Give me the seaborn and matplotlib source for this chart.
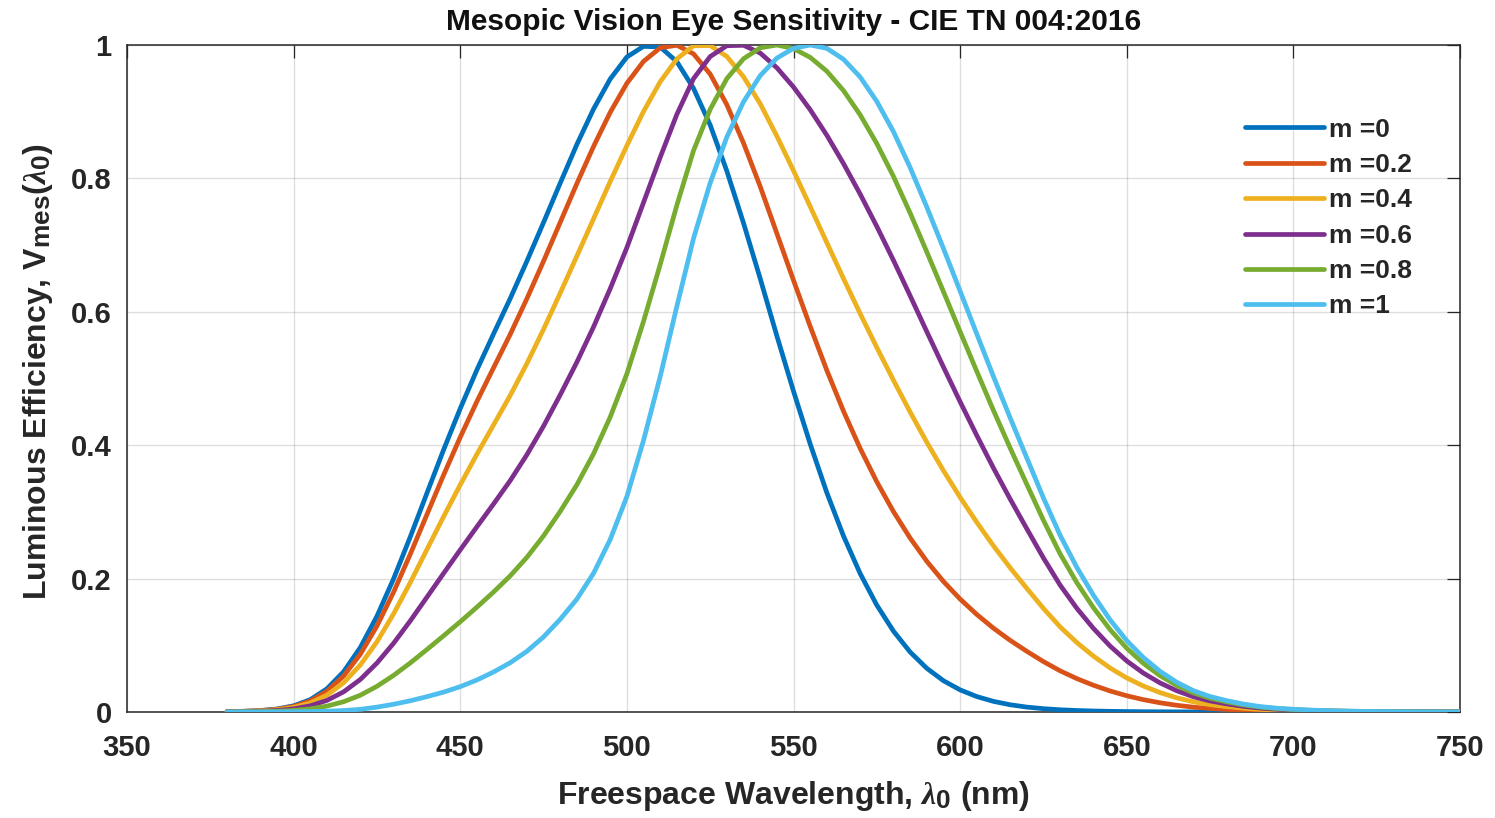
import matplotlib
matplotlib.use("Agg")
import matplotlib.pyplot as plt
import pandas as pd
import seaborn as sns

try:  # larger sub/superscripts, closer to the TeX-style labels of the reference
    import matplotlib._mathtext as _mt
    _mt.SHRINK_FACTOR = 0.82
except Exception:
    pass

# ---------------- data ----------------
wavelength = list(range(380, 755, 5))  # nm

m_labels = ["m =0", "m =0.2", "m =0.4", "m =0.6", "m =0.8", "m =1"]

v_m00 = [0.000589, 0.001108, 0.002209, 0.00453, 0.00929,
         0.01852, 0.03484, 0.0604, 0.0966, 0.1436,
         0.1998, 0.2625, 0.3281, 0.3931, 0.455,
         0.513, 0.567, 0.62, 0.676, 0.734,
         0.793, 0.851, 0.904, 0.949, 0.982,
         0.998, 0.997, 0.975, 0.935, 0.88,
         0.811, 0.733, 0.65, 0.564, 0.481,
         0.402, 0.3288, 0.2639, 0.2076, 0.1602,
         0.1212, 0.0899, 0.0655, 0.0469, 0.03315,
         0.02312, 0.01593, 0.01088, 0.00737, 0.00497,
         0.003335, 0.002235, 0.0015, 0.001, 0.00068,
         0.00046, 0.00031, 0.00022, 0.00015, 0.0001,
         0.00007, 0.00005, 0.000035, 0.000025, 0.000018,
         0.000013, 0.000009, 0.0000066, 0.0000048, 0.0000035,
         0.0000025, 0.0000019, 0.0000014, 0.000001, 0.00000075]

v_m02 = [0.00053, 0.001, 0.00199, 0.00407, 0.00833,
         0.01657, 0.03117, 0.05405, 0.08656, 0.12898,
         0.17978, 0.23655, 0.2961, 0.35526, 0.41198,
         0.46563, 0.51618, 0.56628, 0.61974, 0.67597,
         0.73415, 0.79231, 0.8479, 0.89903, 0.94258,
         0.97546, 0.99579, 0.99961, 0.9867, 0.95637,
         0.91042, 0.85297, 0.78803, 0.71758, 0.64723,
         0.57827, 0.51224, 0.45105, 0.39521, 0.34505,
         0.3004, 0.26073, 0.22594, 0.19568, 0.16931,
         0.14619, 0.12566, 0.10748, 0.09102, 0.07558,
         0.06172, 0.0501, 0.04013, 0.03153, 0.02433,
         0.0185, 0.0138, 0.01008, 0.00723, 0.00523,
         0.00383, 0.00268, 0.00185, 0.00129, 0.00093,
         0.00064, 0.00047, 0.00033, 0.00023, 0.00016,
         0.00012, 0.00008, 0.000055, 0.000038, 0.000027]

v_m04 = [0.00044, 0.00082, 0.00162, 0.00332, 0.00678,
         0.01344, 0.02528, 0.04387, 0.0704, 0.1053,
         0.14719, 0.19413, 0.24357, 0.29288, 0.34066,
         0.38652, 0.4305, 0.47466, 0.52246, 0.57381,
         0.62813, 0.6836, 0.73947, 0.79532, 0.84917,
         0.90038, 0.94491, 0.97905, 0.99882, 0.99914,
         0.98274, 0.95243, 0.91205, 0.8635, 0.81158,
         0.75791, 0.70364, 0.64986, 0.59735, 0.54643,
         0.4973, 0.44971, 0.40437, 0.36182, 0.32185,
         0.28439, 0.24912, 0.21632, 0.18537, 0.1553,
         0.12766, 0.10419, 0.08381, 0.06605, 0.05107,
         0.03891, 0.02906, 0.02124, 0.01524, 0.01104,
         0.00809, 0.00566, 0.0039, 0.00271, 0.00195,
         0.00137, 0.00099, 0.00071, 0.0005, 0.00035,
         0.00025, 0.00017, 0.00012, 0.00008, 0.000057]

v_m06 = [0.00031, 0.00057, 0.00113, 0.00231, 0.00469,
         0.00925, 0.0174, 0.03023, 0.04871, 0.07338,
         0.10312, 0.13662, 0.17215, 0.20786, 0.24308,
         0.27774, 0.31193, 0.34699, 0.38576, 0.42868,
         0.47549, 0.52461, 0.57733, 0.63474, 0.69626,
         0.7639, 0.83158, 0.89605, 0.94956, 0.9827,
         0.99894, 0.99956, 0.98802, 0.96592, 0.93698,
         0.90303, 0.86472, 0.82222, 0.77655, 0.72798,
         0.67713, 0.62402, 0.57021, 0.51716, 0.46512,
         0.41464, 0.36578, 0.31938, 0.27484, 0.23097,
         0.19031, 0.1556, 0.12534, 0.0989, 0.07653,
         0.05833, 0.04359, 0.03187, 0.02286, 0.01657,
         0.01214, 0.0085, 0.00586, 0.00407, 0.00293,
         0.00207, 0.0015, 0.00107, 0.00075, 0.00053,
         0.00037, 0.00026, 0.00018, 0.00012, 0.000085]

v_m08 = [0.00017, 0.0003, 0.0006, 0.0012, 0.00242,
         0.0047, 0.00885, 0.01541, 0.02511, 0.03853,
         0.0549, 0.07355, 0.09367, 0.11423, 0.13534,
         0.15719, 0.17993, 0.20415, 0.23189, 0.26409,
         0.30079, 0.34074, 0.38707, 0.44224, 0.50703,
         0.58577, 0.67091, 0.75983, 0.8417, 0.90363,
         0.94961, 0.97938, 0.99576, 1.0, 0.99465,
         0.98149, 0.96071, 0.93162, 0.89534, 0.85212,
         0.80294, 0.74808, 0.68975, 0.63021, 0.57015,
         0.51067, 0.45216, 0.39592, 0.34144, 0.2874,
         0.23708, 0.19403, 0.15641, 0.12348, 0.09558,
         0.07288, 0.05447, 0.03983, 0.02857, 0.02071,
         0.01518, 0.01062, 0.00732, 0.00509, 0.00366,
         0.00259, 0.00187, 0.00132, 0.00093, 0.00066,
         0.00046, 0.00032, 0.00022, 0.00015, 0.00011]

v_m10 = [0.000039, 0.000064, 0.00012, 0.000217, 0.000396,
         0.00064, 0.00121, 0.00218, 0.004, 0.0073,
         0.0116, 0.01684, 0.023, 0.0298, 0.038,
         0.048, 0.06, 0.0739, 0.091, 0.1126,
         0.139, 0.1693, 0.208, 0.2586, 0.323,
         0.4073, 0.503, 0.6082, 0.71, 0.7932,
         0.862, 0.9149, 0.954, 0.9803, 0.995,
         1.0, 0.995, 0.9786, 0.952, 0.9154,
         0.87, 0.8163, 0.757, 0.6949, 0.631,
         0.5668, 0.503, 0.4412, 0.381, 0.321,
         0.265, 0.217, 0.175, 0.1382, 0.107,
         0.0816, 0.061, 0.0446, 0.032, 0.0232,
         0.017, 0.0119, 0.0082, 0.0057, 0.0041,
         0.0029, 0.0021, 0.0015, 0.001, 0.00074,
         0.00052, 0.00036, 0.00025, 0.00017, 0.00012]

x_ticks = [350, 400, 450, 500, 550, 600, 650, 700, 750]
y_ticks = [0, 0.2, 0.4, 0.6, 0.8, 1.0]
y_tick_labels = ["0", "0.2", "0.4", "0.6", "0.8", "1"]

colors = ["#0072BD", "#D95319", "#EDB120", "#7E2F8E", "#77AC30", "#4DBEEE"]

series = [v_m00, v_m02, v_m04, v_m06, v_m08, v_m10]
df = pd.concat(
    [pd.DataFrame({"wavelength": wavelength, "value": vals, "m": lab})
     for lab, vals in zip(m_labels, series)],
    ignore_index=True,
)

# ---------------- style ----------------
sns.set_style("white")
plt.rcParams["font.family"] = ["Liberation Sans", "DejaVu Sans"]
plt.rcParams["font.weight"] = "bold"
plt.rcParams["mathtext.fontset"] = "custom"
plt.rcParams["mathtext.rm"] = "Liberation Sans:bold"
plt.rcParams["mathtext.bf"] = "Liberation Sans:bold"
plt.rcParams["mathtext.it"] = "Liberation Serif:italic"
plt.rcParams["lines.solid_capstyle"] = "round"
plt.rcParams["lines.solid_joinstyle"] = "round"

TXT = "#262626"

fig = plt.figure(figsize=(14.95, 8.18), dpi=100)
ax = fig.add_axes([127 / 1495, (818 - 712) / 818, (1460 - 127) / 1495, (712 - 45) / 818])

sns.lineplot(data=df, x="wavelength", y="value", hue="m", hue_order=m_labels,
             palette=colors, linewidth=3.4, ax=ax, legend=False, zorder=3)

ax.set_xlim(350, 750)
ax.set_ylim(0, 1)
ax.set_xticks(x_ticks)
ax.set_xticklabels([str(t) for t in x_ticks])
ax.set_yticks(y_ticks)
ax.set_yticklabels(y_tick_labels)

ax.grid(True, color=TXT, alpha=0.15, linewidth=1.0)
ax.set_axisbelow(True)
for sp in ax.spines.values():
    sp.set_visible(True)
    sp.set_color(TXT)
    sp.set_linewidth(1.1)

ax.tick_params(axis="both", direction="in", length=9.5, width=0.9, color=TXT,
               top=True, right=True, labelsize=21, labelcolor=TXT)
ax.tick_params(axis="x", pad=16)
ax.tick_params(axis="y", pad=11)
for lab in ax.get_xticklabels() + ax.get_yticklabels():
    lab.set_fontweight("bold")

ax.set_title("Mesopic Vision Eye Sensitivity - CIE TN 004:2016",
             fontsize=21.5, fontweight="bold", color="#111111", pad=10.5)
ax.set_xlabel(r"Freespace Wavelength, $\lambda_0$ (nm)", fontsize=23,
              fontweight="bold", color=TXT)
ax.set_ylabel(r"Luminous Efficiency, $\mathrm{V}_{\mathrm{mes}}(\lambda_0)$",
              fontsize=23, fontweight="bold", color=TXT)
ax.xaxis.set_label_coords(0.5, -0.1)
ax.yaxis.set_label_coords(-0.054, 0.51)

handles = ax.get_lines()[:len(m_labels)]
leg = ax.legend(handles, m_labels, loc="upper left",
                bbox_to_anchor=(0.8387, 0.891), frameon=False,
                fontsize=19, handlelength=3.0, handletextpad=0.2,
                labelspacing=0.43, borderpad=0, borderaxespad=0)
for t in leg.get_texts():
    t.set_fontweight("bold")
    t.set_color(TXT)

fig.savefig("out.png", dpi=100, facecolor="white")
